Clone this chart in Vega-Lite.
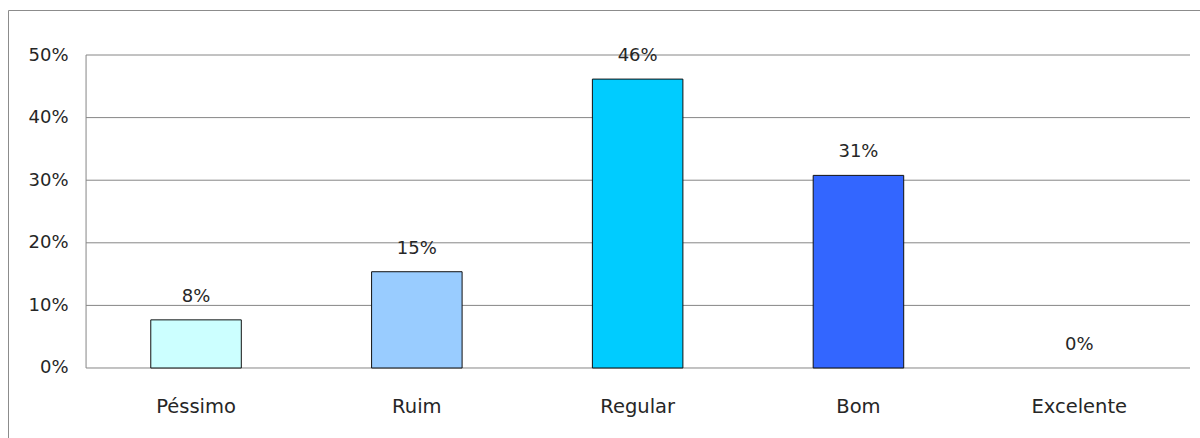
{
  "$schema": "https://vega.github.io/schema/vega-lite/v6.json",
  "width": 1200,
  "height": 438,
  "autosize": {"type": "none"},
  "padding": {"left": 8, "top": 10, "right": -8, "bottom": -10},
  "background": "white",
  "config": {
    "view": {"stroke": "#8c8c8c", "strokeWidth": 1},
    "font": "DejaVu Sans"
  },
  "datasets": {
    "avaliacao": [
      {"categoria": "Péssimo", "valor": 0.0769, "rotulo": "8%"},
      {"categoria": "Ruim", "valor": 0.1538, "rotulo": "15%"},
      {"categoria": "Regular", "valor": 0.4615, "rotulo": "46%"},
      {"categoria": "Bom", "valor": 0.3077, "rotulo": "31%"},
      {"categoria": "Excelente", "valor": 0, "rotulo": "0%"}
    ],
    "grade": [
      {"v": 0}, {"v": 0.1}, {"v": 0.2}, {"v": 0.3}, {"v": 0.4}, {"v": 0.5}
    ],
    "eixo": [
      {"inicio": 0, "fim": 0.5}
    ]
  },
  "resolve": {"scale": {"x": "independent"}},
  "layer": [
    {
      "data": {"name": "grade"},
      "mark": {"type": "rule", "color": "#868686", "strokeWidth": 1},
      "encoding": {
        "y": {
          "field": "v", "type": "quantitative",
          "scale": {"domain": [-0.1278, 0.5719], "nice": false, "zero": false},
          "axis": {"title": null, "orient": "left", "offset": -78, "values": [0, 0.1, 0.2, 0.3, 0.4, 0.5], "format": ".0%", "grid": false, "domain": false, "ticks": false, "labelPadding": 18, "labelFontSize": 18, "labelColor": "#262626"}
        },
        "x": {"datum": 0, "type": "quantitative", "scale": {"domain": [-0.0707, 1.0163], "nice": false, "zero": false}, "axis": null},
        "x2": {"datum": 1}
      }
    },
    {
      "data": {"name": "eixo"},
      "mark": {"type": "rule", "color": "#868686", "strokeWidth": 1},
      "encoding": {
        "y": {
          "field": "inicio", "type": "quantitative",
          "scale": {"domain": [-0.1278, 0.5719], "nice": false, "zero": false},
          "axis": {"title": null, "orient": "left", "offset": -78, "values": [0, 0.1, 0.2, 0.3, 0.4, 0.5], "format": ".0%", "grid": false, "domain": false, "ticks": false, "labelPadding": 18, "labelFontSize": 18, "labelColor": "#262626"}
        },
        "y2": {"field": "fim"},
        "x": {"datum": 0, "type": "quantitative", "scale": {"domain": [-0.0707, 1.0163], "nice": false, "zero": false}, "axis": null}
      }
    },
    {
      "data": {"name": "avaliacao"},
      "transform": [{"filter": "datum.valor > 0"}],
      "mark": {"type": "bar", "stroke": "#111111", "strokeWidth": 1},
      "encoding": {
        "x": {
          "field": "categoria", "type": "nominal",
          "scale": {"type": "band", "domain": ["Péssimo", "Ruim", "Regular", "Bom", "Excelente"], "paddingInner": 0.59, "paddingOuter": 0.5124, "align": 0.631},
          "axis": {"title": null, "orient": "bottom", "offset": -80, "domain": false, "ticks": false, "labelPadding": 29, "labelFontSize": 19.5, "labelColor": "#262626", "labelAngle": 0}
        },
        "y": {
          "field": "valor", "type": "quantitative",
          "scale": {"domain": [-0.1278, 0.5719], "nice": false, "zero": false},
          "axis": {"title": null, "orient": "left", "offset": -78, "values": [0, 0.1, 0.2, 0.3, 0.4, 0.5], "format": ".0%", "grid": false, "domain": false, "ticks": false, "labelPadding": 18, "labelFontSize": 18, "labelColor": "#262626"}
        },
        "y2": {"datum": 0},
        "color": {
          "field": "categoria", "type": "nominal",
          "scale": {"domain": ["Péssimo", "Ruim", "Regular", "Bom", "Excelente"], "range": ["#CCFFFF", "#99CCFF", "#00CCFF", "#3366FF", "#0033CC"]},
          "legend": null
        }
      }
    },
    {
      "data": {"name": "avaliacao"},
      "mark": {"type": "text", "dy": -23, "baseline": "middle", "align": "center", "fontSize": 18, "color": "#262626"},
      "encoding": {
        "x": {
          "field": "categoria", "type": "nominal",
          "scale": {"type": "band", "domain": ["Péssimo", "Ruim", "Regular", "Bom", "Excelente"], "paddingInner": 0.59, "paddingOuter": 0.5124, "align": 0.631},
          "axis": null
        },
        "y": {
          "field": "valor", "type": "quantitative",
          "scale": {"domain": [-0.1278, 0.5719], "nice": false, "zero": false},
          "axis": {"title": null, "orient": "left", "offset": -78, "values": [0, 0.1, 0.2, 0.3, 0.4, 0.5], "format": ".0%", "grid": false, "domain": false, "ticks": false, "labelPadding": 18, "labelFontSize": 18, "labelColor": "#262626"}
        },
        "text": {"field": "rotulo"}
      }
    }
  ]
}
